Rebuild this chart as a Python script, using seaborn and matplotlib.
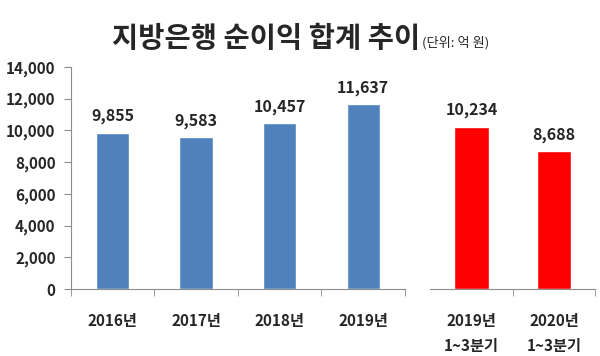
import numpy as np
import pandas as pd
import seaborn as sns
import matplotlib.pyplot as plt
from matplotlib.ticker import FixedLocator, FuncFormatter

# data
years = ['2016년', '2017년', '2018년', '2019년']
year_profit = [9855, 9583, 10457, 11637]
quarters = ['2019년\n1~3분기', '2020년\n1~3분기']
quarter_profit = [10234, 8688]
y_ticks = [0, 2000, 4000, 6000, 8000, 10000, 12000, 14000]

sns.set_style('white')
plt.rcParams['font.family'] = ['Noto Sans CJK KR', 'DejaVu Sans']
plt.rcParams['font.weight'] = 'bold'

fig = plt.figure(figsize=(6, 3.56), dpi=100)
ax1 = fig.add_axes([0.118, 0.188, 0.557, 0.624])
ax2 = fig.add_axes([0.717, 0.188, 0.275, 0.624])

df1 = pd.DataFrame({'구분': years, '순이익': year_profit})
df2 = pd.DataFrame({'구분': quarters, '순이익': quarter_profit})

sns.barplot(data=df1, x='구분', y='순이익', color='#4F81BD', saturation=1,
            width=0.4, ax=ax1)
sns.barplot(data=df2, x='구분', y='순이익', color='#FF0000', saturation=1,
            width=0.42, ax=ax2)

spine_col = '#8c8c8c'
for ax, vals in [(ax1, year_profit), (ax2, quarter_profit)]:
    ax.set_ylim(0, 14000)
    ax.set_xlim(-0.5, len(vals) - 0.5)
    ax.set_xlabel('')
    ax.set_ylabel('')
    for s in ['top', 'right']:
        ax.spines[s].set_visible(False)
    ax.spines['bottom'].set_color(spine_col)
    ax.spines['left'].set_color(spine_col)
    ax.bar_label(ax.containers[0], labels=[f'{v:,}' for v in vals],
                 padding=6, fontsize=11.5, fontweight='bold')
    ax.tick_params(axis='x', which='major', length=0, pad=17, labelsize=11)
    ax.tick_params(axis='x', which='minor', length=5, color=spine_col,
                   direction='out', bottom=True)
    for lbl in ax.get_xticklabels():
        lbl.set_fontweight('bold')
        lbl.set_linespacing(1.7)
        lbl.set_verticalalignment('top')

ax1.xaxis.set_minor_locator(FixedLocator(np.arange(-0.5, len(years), 1.0)))
ax2.xaxis.set_minor_locator(FixedLocator([0.5, 1.5]))

ax1.set_yticks(y_ticks)
ax1.yaxis.set_major_formatter(FuncFormatter(lambda v, p: f'{int(v):,}'))
ax1.tick_params(axis='y', length=5, color=spine_col, direction='out',
                left=True, labelsize=11, pad=6)
for lbl in ax1.get_yticklabels():
    lbl.set_fontweight('bold')

ax2.spines['left'].set_visible(False)
ax2.set_yticks([])

fig.text(0.70, 0.868, '지방은행 순이익 합계 추이', ha='right', va='baseline',
         fontsize=20.5, fontweight='bold')
fig.text(0.703, 0.868, '(단위: 억 원)', ha='left', va='baseline',
         fontsize=9.5, fontweight='medium')

fig.savefig('out.png', dpi=100)
